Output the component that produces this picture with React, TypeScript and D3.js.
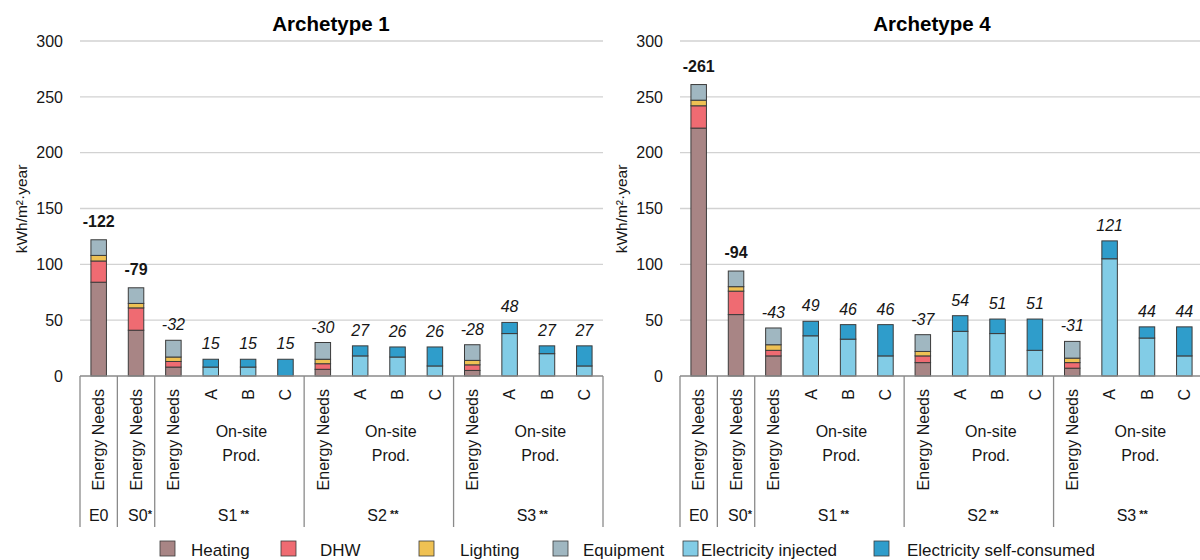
import React from "react";
import * as d3 from "d3";

// Bar slots along each panel's category axis
const categories = [
  "E0", "S0", "S1-EN", "S1-A", "S1-B", "S1-C",
  "S2-EN", "S2-A", "S2-B", "S2-C", "S3-EN", "S3-A", "S3-B", "S3-C",
];
const slotLabels = [
  "Energy Needs", "Energy Needs", "Energy Needs", "A", "B", "C",
  "Energy Needs", "A", "B", "C", "Energy Needs", "A", "B", "C",
];
const isNeeds = [true, true, true, false, false, false, true, false, false, false, true, false, false, false];
const boldLabel = [true, true, false, false, false, false, false, false, false, false, false, false, false, false];

// Scenario groups spanning slot indices
const groupNames = ["E0", "S0", "S1", "S2", "S3"];
const groupMarks = ["", "*", " **", " **", " **"];
const groupStart = [0, 1, 2, 6, 10];
const groupEnd = [0, 1, 5, 9, 13];
const groupHasProd = [false, false, true, true, true];

const yTicks = [0, 50, 100, 150, 200, 250, 300];

// Archetype 1 (kWh/m²·year)
const a1Heating = [84, 41, 8, 0, 0, 0, 6, 0, 0, 0, 5, 0, 0, 0];
const a1Dhw = [19, 20, 5, 0, 0, 0, 5, 0, 0, 0, 5, 0, 0, 0];
const a1Lighting = [5, 4, 4, 0, 0, 0, 4, 0, 0, 0, 4, 0, 0, 0];
const a1Equipment = [14, 14, 15, 0, 0, 0, 15, 0, 0, 0, 14, 0, 0, 0];
const a1Injected = [0, 0, 0, 8, 8, 0, 0, 18, 17, 9, 0, 38, 20, 9];
const a1SelfConsumed = [0, 0, 0, 7, 7, 15, 0, 9, 9, 17, 0, 10, 7, 18];

// Archetype 4 (kWh/m²·year)
const a4Heating = [222, 55, 18, 0, 0, 0, 12, 0, 0, 0, 7, 0, 0, 0];
const a4Dhw = [20, 21, 5, 0, 0, 0, 6, 0, 0, 0, 5, 0, 0, 0];
const a4Lighting = [5, 4, 5, 0, 0, 0, 4, 0, 0, 0, 4, 0, 0, 0];
const a4Equipment = [14, 14, 15, 0, 0, 0, 15, 0, 0, 0, 15, 0, 0, 0];
const a4Injected = [0, 0, 0, 36, 33, 18, 0, 40, 38, 23, 0, 105, 34, 18];
const a4SelfConsumed = [0, 0, 0, 13, 13, 28, 0, 14, 13, 28, 0, 16, 10, 26];

const seriesNames = ["Heating", "DHW", "Lighting", "Equipment", "Electricity injected", "Electricity self-consumed"];
const seriesColors = ["#a88585", "#ef6b72", "#efc153", "#a0b7c1", "#82cce6", "#2f9dcb"];

const panels = [
  { title: "Archetype 1", series: [a1Heating, a1Dhw, a1Lighting, a1Equipment, a1Injected, a1SelfConsumed], dx: 0, titleX: 331 },
  { title: "Archetype 4", series: [a4Heating, a4Dhw, a4Lighting, a4Equipment, a4Injected, a4SelfConsumed], dx: 600, titleX: 932 },
];

// Legend layout: swatch x and text x
const legendSwatchX = [160, 281, 419, 553, 683, 874];
const legendTextX = [191, 320, 460, 583, 701, 907];

const FONT = "'Liberation Sans', Arial, sans-serif";
const W = 1200;
const H = 560;
const plotLeft = 80;
const plotRight = 603;
const baseY = 376;
const topY = 41;
const tableBottom = 527;
const gridColor = "#d2d2d2";
const tableColor = "#8a8a8a";
const barStroke = "#3b3b3b";
const textColor = "#161616";

function Panel({ panel }: { panel: (typeof panels)[number] }) {
  const x = d3
    .scaleBand<string>()
    .domain(categories)
    .range([plotLeft + panel.dx, plotRight + panel.dx])
    .paddingInner(0.585)
    .paddingOuter(0.2925);
  const y = d3.scaleLinear().domain([0, 300]).range([baseY, topY]);
  const step = x.step();
  const slotStart = (i: number) => plotLeft + panel.dx + i * step;

  const stackInput = categories.map((c, i) => {
    const row: Record<string, number | string> = { cat: c };
    seriesNames.forEach((s, k) => (row[s] = panel.series[k][i]));
    return row;
  });
  const stacked = d3.stack<Record<string, number | string>>().keys(seriesNames)(stackInput as any);
  const totals = categories.map((_, i) => d3.sum(panel.series, (s) => s[i]));

  return (
    <g>
      {/* gridlines */}
      {yTicks.filter((t) => t > 0).map((t) => (
        <line key={t} x1={plotLeft + panel.dx} x2={plotRight + panel.dx} y1={y(t)} y2={y(t)} stroke={gridColor} strokeWidth={1.4} />
      ))}
      {/* y tick labels */}
      {yTicks.map((t) => (
        <text key={t} x={63 + panel.dx} y={y(t)} dy="0.36em" textAnchor="end" fontSize={16} fill={textColor}>
          {t}
        </text>
      ))}
      <text transform={`translate(${22 + panel.dx},209) rotate(-90)`} textAnchor="middle" dy="0.35em" fontSize={15.5} fill={textColor}>
        kWh/m²·year
      </text>
      <text x={panel.titleX} y={31} textAnchor="middle" fontSize={20.5} fontWeight="bold" fill="#000">
        {panel.title}
      </text>

      {/* stacked bars */}
      {stacked.map((layer, k) => (
        <g key={layer.key} fill={seriesColors[k]}>
          {layer.map((d, i) =>
            d[1] - d[0] > 0 ? (
              <rect
                key={i}
                x={x(categories[i])!}
                width={x.bandwidth()}
                y={y(d[1])}
                height={y(d[0]) - y(d[1])}
                stroke={barStroke}
                strokeWidth={1}
              />
            ) : null
          )}
        </g>
      ))}

      {/* value labels */}
      {categories.map((c, i) => (
        <text
          key={c}
          x={x(c)! + x.bandwidth() / 2}
          y={y(totals[i]) - (boldLabel[i] ? 13 : 10)}
          textAnchor="middle"
          fontSize={16}
          fontWeight={boldLabel[i] ? "bold" : "normal"}
          fontStyle={boldLabel[i] ? "normal" : "italic"}
          fill={textColor}
        >
          {(isNeeds[i] ? "-" : "") + totals[i]}
        </text>
      ))}

      {/* category table */}
      <line x1={plotLeft + panel.dx} x2={plotRight + panel.dx} y1={baseY} y2={baseY} stroke={tableColor} strokeWidth={1.3} />
      {[...groupStart, categories.length].map((s, j) => (
        <line key={j} x1={slotStart(s)} x2={slotStart(s)} y1={baseY} y2={tableBottom} stroke={tableColor} strokeWidth={1.3} />
      ))}
      {categories.map((c, i) => (
        <text
          key={c}
          transform={`translate(${x(c)! + x.bandwidth() / 2 + 5.8},389) rotate(-90)`}
          textAnchor="end"
          fontSize={16}
          fill={textColor}
        >
          {slotLabels[i]}
        </text>
      ))}
      {groupNames.map((g, j) => {
        const cx = (slotStart(groupStart[j]) + slotStart(groupEnd[j] + 1)) / 2;
        return (
          <g key={g}>
            {groupHasProd[j] ? (
              <>
                <text x={cx + 12} y={437} textAnchor="middle" fontSize={16} fill={textColor}>On-site</text>
                <text x={cx + 12} y={461} textAnchor="middle" fontSize={16} fill={textColor}>Prod.</text>
              </>
            ) : null}
            <text x={cx + (groupMarks[j] ? 4 : 0)} y={521} textAnchor="middle" fontSize={16} fill={textColor}>
              {g}
              {groupMarks[j] ? (
                <tspan fontSize={11} fontWeight="bold" dy={-3}>{groupMarks[j]}</tspan>
              ) : null}
            </text>
          </g>
        );
      })}
    </g>
  );
}

export default function App() {
  return (
    <svg
      width={W}
      height={H}
      viewBox={`0 0 ${W} ${H}`}
      style={{ position: "absolute", left: 0, top: 0, background: "#fff", fontFamily: FONT }}
    >
      <rect width={W} height={H} fill="#fff" />
      {panels.map((p) => (
        <Panel key={p.title} panel={p} />
      ))}
      {seriesNames.map((s, k) => (
        <g key={s}>
          <rect x={legendSwatchX[k]} y={541} width={15} height={15} fill={seriesColors[k]} stroke={barStroke} strokeWidth={0.8} />
          <text x={legendTextX[k]} y={556} fontSize={17} fill={textColor}>{s}</text>
        </g>
      ))}
    </svg>
  );
}
